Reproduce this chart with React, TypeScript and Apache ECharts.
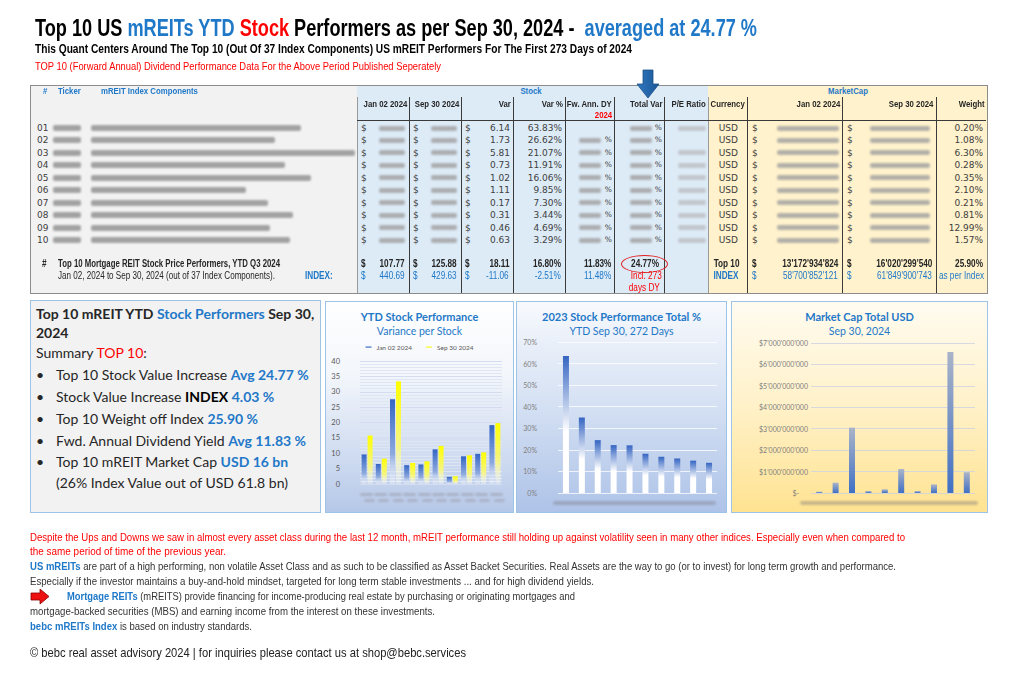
import React, { useEffect, useLayoutEffect, useRef } from 'react';
import * as echarts from 'echarts';

// ---------- data ----------
const stockNums = ['01', '02', '03', '04', '05', '06', '07', '08', '09', '10'];
const stockVar = ['6.14', '1.73', '5.81', '0.73', '1.02', '1.11', '0.17', '0.31', '0.46', '0.63'];
const stockVarPct = ['63.83%', '26.62%', '21.07%', '11.91%', '16.06%', '9.85%', '7.30%', '3.44%', '4.69%', '3.29%'];
const capWeight = ['0.20%', '1.08%', '6.30%', '0.28%', '0.35%', '2.10%', '0.21%', '0.81%', '12.99%', '1.57%'];
const priceJan02 = [9.62, 6.5, 27.57, 6.13, 6.35, 11.27, 2.33, 9.01, 9.81, 19.15];
const priceSep30 = [15.76, 8.23, 33.38, 6.86, 7.37, 12.38, 2.5, 9.32, 10.27, 19.78];
const totalPerfPct = [63.5, 35.0, 24.5, 22.2, 22.1, 18.2, 16.8, 16.0, 15.0, 14.0];
const marketCapUsd = [60e6, 480e6, 3050e6, 90e6, 170e6, 1120e6, 90e6, 400e6, 6580e6, 970e6];
const summaryTop10 = ['107.77', '125.88', '18.11', '16.80%', '11.83%', '24.77%'];
const summaryIndex = ['440.69', '429.63', '-11.06', '-2.51%', '11.48%'];
const capTop10 = ["13'172'934'824", "16'020'299'540", '25.90%'];
const capIndex = ["58'700'852'121", "61'849'900'743", 'as per Index'];
const legendNames = ['Jan 02 2024', 'Sep 30 2024'];

// ---------- layout / style ----------
const W = 1024;
const H = 674;
const BLUE = '#1f78c8';
const RED = '#ff0000';
const DARK = '#262626';
const ARIAL = "'Liberation Sans',Arial,sans-serif";
const LATO = "Lato,'Open Sans',sans-serif";
const DJ = "'DejaVu Sans',Verdana,sans-serif";
const NK = 0.82; // narrow factor
const nameBlurEnd = [301, 275, 355, 285, 311, 246, 268, 293, 270, 290];
const rowY = (i: number) => 128 + i * 12.45;
const C = {
  jan: [357, 409], sep: [409, 461], vr: [461, 513], vp: [513, 565], dy: [565, 614], tv: [614, 664],
  pe: [664, 708], cur: [708, 747], mj: [747, 842], ms: [842, 936], w: [936, 986],
};
const vlineXs = [357, 409, 461, 513, 565, 614, 664, 708, 747, 842, 936];

type TP = { x: number; y: number; a?: 'l' | 'r' | 'c'; s?: React.CSSProperties; sx?: number; children?: React.ReactNode };
const T = ({ x, y, a = 'l', s, sx = 1, children }: TP) => {
  const st: React.CSSProperties = { position: 'absolute', top: y - 10, whiteSpace: 'nowrap', ...s, lineHeight: '20px', height: 20 };
  let tf = '';
  if (a === 'r') { st.right = W - x; st.transformOrigin = 'right center'; }
  else if (a === 'c') { st.left = x; tf = 'translateX(-50%) '; st.transformOrigin = 'center center'; }
  else { st.left = x; st.transformOrigin = 'left center'; }
  if (sx !== 1) tf += `scaleX(${sx})`;
  if (tf) st.transform = tf;
  return <div style={st}>{children}</div>;
};
// narrow text (Arial-metric font compressed like a narrow cut)
const N = (p: TP) => <T {...p} sx={p.sx ?? NK} />;

// text squeezed to the width it has in the reference
const Fit = ({ x, y, w, s, children }: { x: number; y: number; w: number; s?: React.CSSProperties; children?: React.ReactNode }) => {
  const ref = useRef<HTMLDivElement>(null);
  useLayoutEffect(() => {
    const el = ref.current!;
    el.style.transform = 'none';
    const nat = el.getBoundingClientRect().width;
    if (nat > 0) el.style.transform = `scaleX(${w / nat})`;
  }, []);
  return (
    <div ref={ref} style={{ position: 'absolute', left: x, top: y - 10, whiteSpace: 'nowrap', ...s, lineHeight: '20px', height: 20, transformOrigin: 'left center' }}>
      {children}
    </div>
  );
};

const Blur = ({ x, y, w, h = 5, c = '#8f8f8f', o = 0.8 }: { x: number; y: number; w: number; h?: number; c?: string; o?: number }) => (
  <div style={{ position: 'absolute', left: x, top: y - h / 2, width: w, height: h, background: c, filter: 'blur(1.2px)', opacity: o, borderRadius: 2 }} />
);
const Box = ({ x, y, w, h, s }: { x: number; y: number; w: number; h: number; s?: React.CSSProperties }) => (
  <div style={{ position: 'absolute', left: x, top: y, width: w, height: h, boxSizing: 'border-box', ...s }} />
);

const vgrad = (stops: [number, string][]) =>
  new echarts.graphic.LinearGradient(0, 0, 0, 1, stops.map(([offset, color]) => ({ offset, color })));

function EChart({ option, style }: { option: any; style: React.CSSProperties }) {
  const ref = useRef<HTMLDivElement>(null);
  useEffect(() => {
    const chart = echarts.init(ref.current!, null, { renderer: 'svg' });
    chart.setOption(option);
    return () => chart.dispose();
  }, []);
  return <div ref={ref} style={style} />;
}

const titleStyle = { fontFamily: LATO, fontSize: 11, fontWeight: 'bold', color: BLUE };
const subStyle = { fontFamily: LATO, fontSize: 10.5, color: BLUE };
const axisLbl = { fontFamily: LATO, fontSize: 7, color: '#7f7f7f' };

const chart1Option = {
  animation: false,
  title: { text: 'YTD Stock Performance', subtext: 'Variance per Stock', left: 'center', top: 4, itemGap: 3, textStyle: titleStyle, subtextStyle: subStyle },
  legend: {
    top: 37, left: 'center', icon: 'rect', itemWidth: 6, itemHeight: 2, itemGap: 14,
    textStyle: { fontFamily: LATO, fontSize: 6.5, color: '#595959' },
    data: legendNames,
  },
  grid: { left: 34, right: 11, top: 59, bottom: 28 },
  xAxis: { type: 'category', data: stockNums, axisLine: { show: false }, axisTick: { show: false }, axisLabel: { show: false } },
  yAxis: {
    type: 'value', min: 0, max: 40, interval: 5,
    axisLabel: { ...axisLbl, fontSize: 7.5, color: '#595959', margin: 20 },
    splitLine: { lineStyle: { color: '#d3ddef' } },
    minorTick: { show: false, splitNumber: 5 },
    minorSplitLine: { show: true, lineStyle: { color: '#dfe6f3' } },
  },
  series: [
    { name: legendNames[0], type: 'bar', data: priceJan02, barWidth: 5, barGap: '20%', itemStyle: { color: vgrad([[0, '#3566c4'], [0.65, '#8eaadf'], [1, 'rgba(255,255,255,0.3)']]) } },
    { name: legendNames[1], type: 'bar', data: priceSep30, barWidth: 5, itemStyle: { color: vgrad([[0, '#ffff00'], [0.65, '#f4f48a'], [1, 'rgba(255,255,255,0.3)']]) } },
  ],
  color: ['#4472c4', '#ffff00'],
};

const chart2Option = {
  animation: false,
  title: { text: '2023 Stock Performance Total %', subtext: 'YTD Sep 30, 272 Days', left: 'center', top: 4, itemGap: 3, textStyle: titleStyle, subtextStyle: subStyle },
  grid: { left: 41, right: 9, top: 40, bottom: 19 },
  xAxis: { type: 'category', data: stockNums, axisLine: { show: false }, axisTick: { show: false }, axisLabel: { show: false } },
  yAxis: {
    type: 'value', min: 0, max: 70, interval: 10,
    axisLabel: { ...axisLbl, margin: 21, formatter: '{value}%' },
    splitLine: { lineStyle: { color: 'rgba(255,255,255,0.75)' } },
  },
  series: [
    { type: 'bar', data: totalPerfPct, barWidth: 6, itemStyle: { color: vgrad([[0, '#3565c2'], [0.55, '#ffffff'], [1, '#ffffff']]) } },
  ],
};

const capFmt = (v: number) => (v === 0 ? '$-\u00a0\u00a0\u00a0\u00a0\u00a0' : '$' + String(v).replace(/\B(?=(\d{3})+(?!\d))/g, "'"));
const chart3Option = {
  animation: false,
  title: { text: 'Market Cap Total USD', subtext: 'Sep 30, 2024', left: 'center', top: 4, itemGap: 3, textStyle: titleStyle, subtextStyle: subStyle },
  grid: { left: 79, right: 12, top: 41, bottom: 19 },
  xAxis: { type: 'category', data: stockNums, axisLine: { show: false }, axisTick: { show: false }, axisLabel: { show: false } },
  yAxis: {
    type: 'value', min: 0, max: 7e9, interval: 1e9,
    axisLabel: { ...axisLbl, margin: 3, formatter: capFmt },
    splitLine: { lineStyle: { color: 'rgba(205,210,225,0.8)' } },
  },
  series: [
    { type: 'bar', data: marketCapUsd, barWidth: 6, itemStyle: { color: vgrad([[0, '#aab4c8'], [1, '#4070c4']]) } },
  ],
};

export default function App() {
  const dataFont: React.CSSProperties = { font: `9px ${DJ}`, color: '#404040' };
  const rows = stockNums.map((n, i) => {
    const y = rowY(i);
    return (
      <React.Fragment key={n}>
        <T x={37} y={y} s={dataFont}>{n}</T>
        <Blur x={53} y={y} w={28} h={6} />
        <Blur x={91} y={y} w={nameBlurEnd[i] - 91} h={6} />
        <T x={C.jan[0] + 4} y={y} s={dataFont}>$</T>
        <Blur x={C.jan[0] + 22} y={y} w={26} c="#a0a0a0" />
        <T x={C.sep[0] + 4} y={y} s={dataFont}>$</T>
        <Blur x={C.sep[0] + 22} y={y} w={26} c="#a0a0a0" />
        <T x={C.vr[0] + 4} y={y} s={dataFont}>$</T>
        <T x={C.vr[1] - 3} y={y} a="r" s={dataFont}>{stockVar[i]}</T>
        <T x={C.vp[1] - 3} y={y} a="r" s={dataFont}>{stockVarPct[i]}</T>
        {i > 0 && <Blur x={C.dy[0] + 14} y={y} w={22} c="#a0a0a0" />}
        {i > 0 && <T x={C.dy[1] - 2} y={y} a="r" s={{ ...dataFont, fontSize: 7.5 }}>%</T>}
        <Blur x={C.tv[0] + 16} y={y} w={22} c="#a0a0a0" />
        <T x={C.tv[1] - 2} y={y} a="r" s={{ ...dataFont, fontSize: 7.5 }}>%</T>
        {i !== 1 && <Blur x={C.pe[0] + 14} y={y} w={28} c="#b0b0b0" o={0.6} />}
        <T x={C.cur[1] - 9} y={y} a="r" s={dataFont}>USD</T>
        <T x={C.mj[0] + 5} y={y} s={dataFont}>$</T>
        <Blur x={C.mj[0] + 30} y={y} w={62} c="#a0a0a0" />
        <T x={C.ms[0] + 5} y={y} s={dataFont}>$</T>
        <Blur x={C.ms[0] + 28} y={y} w={60} c="#a0a0a0" />
        <T x={C.w[1] - 3} y={y} a="r" s={dataFont}>{capWeight[i]}</T>
      </React.Fragment>
    );
  });

  const hdr: React.CSSProperties = { font: `bold 9.5px ${ARIAL}`, color: DARK };
  const hdrB: React.CSSProperties = { font: `bold 9.5px ${ARIAL}`, color: BLUE };
  const sumB: React.CSSProperties = { font: `bold 10px ${ARIAL}`, color: DARK };
  const sumI: React.CSSProperties = { font: `10px ${ARIAL}`, color: BLUE };
  const sumR: React.CSSProperties = { font: `10px ${ARIAL}`, color: RED };
  const y1 = 264;
  const y2 = 276;

  const bullet = (y: number, content: React.ReactNode) => (
    <>
      <T x={36} y={y} s={{ font: `14px ${LATO}`, color: DARK }}>•</T>
      <T x={56} y={y} s={{ font: `14px ${LATO}`, color: DARK }}>{content}</T>
    </>
  );
  const bb = (t: string, c = BLUE) => <b style={{ color: c }}>{t}</b>;
  const para: React.CSSProperties = { font: `11.5px ${ARIAL}`, color: '#333' };
  const paraR: React.CSSProperties = { font: `11.5px ${ARIAL}`, color: RED };

  return (
    <div style={{ position: 'absolute', left: 0, top: 0, width: W, height: H, background: '#fff', overflow: 'hidden' }}>
      {/* titles */}
      <Fit x={35} y={28} w={722} s={{ font: `bold 23px ${ARIAL}`, color: '#000' }}>
        Top 10 US <span style={{ color: BLUE }}>mREITs YTD</span> <span style={{ color: RED }}>Stock</span> Performers as per Sep 30, 2024 -&nbsp; <span style={{ color: BLUE }}>averaged at 24.77 %</span>
      </Fit>
      <Fit x={35} y={49} w={597} s={{ font: `bold 13px ${ARIAL}`, color: '#000' }}>
        This Quant Centers Around The Top 10 (Out Of 37 Index Components) US mREIT Performers For The First 273 Days of 2024
      </Fit>
      <Fit x={35} y={66} w={406} s={{ font: `11px ${ARIAL}`, color: RED }}>
        TOP 10 (Forward Annual) Dividend Performance Data For the Above Period Published Seperately
      </Fit>

      {/* table backgrounds */}
      <Box x={30} y={85} w={327} h={208} s={{ background: '#f2f2f2' }} />
      <Box x={357} y={85} w={351} h={208} s={{ background: '#ddebf7' }} />
      <Box x={708} y={85} w={280} h={208} s={{ background: '#fff2cc' }} />
      <Box x={30} y={85} w={958} h={209} s={{ border: '1.5px solid #8c8c8c' }} />
      {vlineXs.map((x) => (
        <Box key={x} x={x} y={97} w={1} h={196} s={{ background: x === 357 || x === 708 ? '#9a9a9a' : '#3a3a3a' }} />
      ))}
      <Box x={357} y={120} w={629} h={1} s={{ background: '#3a3a3a' }} />

      {/* header */}
      <N x={43} y={91} s={hdrB}>#</N>
      <N x={58} y={91} s={hdrB}>Ticker</N>
      <N x={101} y={91} s={hdrB}>mREIT Index Components</N>
      <N x={531} y={91} a="c" s={hdrB}>Stock</N>
      <N x={848} y={91} a="c" s={hdrB}>MarketCap</N>
      <N x={C.jan[1] - 2} y={104} a="r" s={hdr}>Jan 02 2024</N>
      <N x={C.sep[1] - 2} y={104} a="r" s={hdr}>Sep 30 2024</N>
      <N x={C.vr[1] - 2} y={104} a="r" s={hdr}>Var</N>
      <N x={C.vp[1] - 2} y={104} a="r" s={hdr}>Var %</N>
      <N x={C.dy[1] - 2} y={104} a="r" s={hdr}>Fw. Ann. DY</N>
      <N x={C.dy[1] - 2} y={115} a="r" s={{ ...hdr, color: RED }}>2024</N>
      <N x={C.tv[1] - 2} y={104} a="r" s={hdr}>Total Var</N>
      <N x={C.pe[1] - 2} y={104} a="r" s={hdr}>P/E Ratio</N>
      <N x={C.cur[1] - 2} y={104} a="r" s={hdr}>Currency</N>
      <N x={C.mj[1] - 2} y={104} a="r" s={hdr}>Jan 02 2024</N>
      <N x={C.ms[1] - 3} y={104} a="r" s={hdr}>Sep 30 2024</N>
      <N x={C.w[1] - 2} y={104} a="r" s={hdr}>Weight</N>

      {/* blue arrow */}
      <svg style={{ position: 'absolute', left: 636, top: 69 }} width={24} height={31}>
        <defs>
          <linearGradient id="ba" x1="0" y1="0" x2="1" y2="0">
            <stop offset="0" stopColor="#2f78c0" />
            <stop offset="1" stopColor="#1a5796" />
          </linearGradient>
        </defs>
        <polygon points="7,1 17,1 17,15 23,15 12,29 1,15 7,15" fill="url(#ba)" stroke="#1c4f86" strokeWidth={0.8} />
      </svg>

      {rows}

      {/* summary rows */}
      <N x={42} y={y1} s={sumB}>#</N>
      <Fit x={58} y={y1} w={222} s={sumB}>Top 10 Mortgage REIT Stock Price Performers, YTD Q3 2024</Fit>
      <Fit x={58} y={y2} w={217} s={{ font: `10px ${ARIAL}`, color: DARK }}>Jan 02, 2024 to Sep 30, 2024 (out of 37 Index Components).</Fit>
      <N x={305} y={y2} s={{ ...sumB, color: BLUE }}>INDEX:</N>
      {[C.jan, C.sep, C.vr].map((c, k) => (
        <React.Fragment key={k}>
          <N x={c[0] + 4} y={y1} s={sumB}>$</N>
          <N x={c[1] - 4} y={y1} a="r" s={sumB}>{summaryTop10[k]}</N>
          <N x={c[0] + 4} y={y2} s={sumI}>$</N>
          <N x={c[1] - 4} y={y2} a="r" s={sumI}>{summaryIndex[k]}</N>
        </React.Fragment>
      ))}
      <N x={C.vp[1] - 4} y={y1} a="r" s={sumB}>{summaryTop10[3]}</N>
      <N x={C.vp[1] - 4} y={y2} a="r" s={sumI}>{summaryIndex[3]}</N>
      <N x={C.dy[1] - 3} y={y1} a="r" s={sumB}>{summaryTop10[4]}</N>
      <N x={C.dy[1] - 3} y={y2} a="r" s={sumI}>{summaryIndex[4]}</N>
      <N x={C.tv[1] - 5} y={y1} a="r" s={sumB}>{summaryTop10[5]}</N>
      <N x={C.tv[1] - 2} y={y2} a="r" s={sumR}>Incl. 273</N>
      <N x={C.tv[1] - 4} y={288} a="r" s={sumR}>days DY</N>
      <div style={{ position: 'absolute', left: 621, top: 255, width: 47, height: 18, border: '1.5px solid #e02020', borderRadius: '50%', boxSizing: 'border-box' }} />
      <N x={C.cur[1] - 8} y={y1} a="r" s={sumB}>Top 10</N>
      <N x={C.cur[1] - 8} y={y2} a="r" s={{ ...sumB, color: BLUE }}>INDEX</N>
      <N x={C.mj[0] + 5} y={y1} s={sumB}>$</N>
      <N x={C.mj[1] - 4} y={y1} a="r" s={sumB}>{capTop10[0]}</N>
      <N x={C.ms[0] + 5} y={y1} s={sumB}>$</N>
      <N x={C.ms[1] - 4} y={y1} a="r" s={sumB}>{capTop10[1]}</N>
      <N x={C.w[1] - 3} y={y1} a="r" s={sumB}>{capTop10[2]}</N>
      <N x={C.mj[0] + 5} y={y2} s={sumI}>$</N>
      <N x={C.mj[1] - 4} y={y2} a="r" s={sumI}>{capIndex[0]}</N>
      <N x={C.ms[0] + 5} y={y2} s={sumI}>$</N>
      <N x={C.ms[1] - 4} y={y2} a="r" s={sumI}>{capIndex[1]}</N>
      <N x={C.w[1] - 2} y={y2} a="r" s={sumI}>{capIndex[2]}</N>

      {/* summary box */}
      <Box x={30} y={300} w={291} h={213} s={{ background: '#f2f2f2', border: '1px solid #9dc3e6' }} />
      <T x={36} y={314} s={{ font: `bold 14px ${LATO}`, color: DARK }}>
        Top 10 mREIT YTD <span style={{ color: BLUE }}>Stock Performers</span> Sep 30,
      </T>
      <T x={36} y={333} s={{ font: `bold 14px ${LATO}`, color: DARK }}>2024</T>
      <T x={36} y={353} s={{ font: `14px ${LATO}`, color: DARK }}>
        Summary <span style={{ color: RED }}>TOP 10</span>:
      </T>
      {bullet(375, <>Top 10 Stock Value Increase {bb('Avg 24.77 %')}</>)}
      {bullet(397, <>Stock Value Increase {bb('INDEX', '#000')} {bb('4.03 %')}</>)}
      {bullet(419, <>Top 10 Weight off Index {bb('25.90 %')}</>)}
      {bullet(441, <>Fwd. Annual Dividend Yield {bb('Avg 11.83 %')}</>)}
      {bullet(462, <>Top 10 mREIT Market Cap {bb('USD 16 bn')}</>)}
      <T x={56} y={483} s={{ font: `14px ${LATO}`, color: DARK }}>(26% Index Value out of USD 61.8 bn)</T>

      {/* charts */}
      <EChart option={chart1Option} style={{ position: 'absolute', left: 325, top: 301, width: 189, height: 212, boxSizing: 'border-box', border: '1px solid #9dc3e6', background: 'linear-gradient(#ffffff 0%, #f3f6fb 35%, #c9d7ef 80%, #b6c8e8 100%)' }} />
      <EChart option={chart2Option} style={{ position: 'absolute', left: 516, top: 301, width: 211, height: 212, boxSizing: 'border-box', border: '1px solid #9dc3e6', background: 'linear-gradient(#f7f9fd 0%, #d4e0f3 50%, #aec3e8 100%)' }} />
      <EChart option={chart3Option} style={{ position: 'absolute', left: 731, top: 301, width: 257, height: 212, boxSizing: 'border-box', border: '1px solid #9dc3e6', background: 'linear-gradient(#fffbf0 0%, #fff1c8 50%, #ffe391 100%)' }} />
      {stockNums.map((n, i) => (
        <React.Fragment key={'l' + n}>
          <Blur x={360 + i * 14.4} y={494} w={13} h={3} c="#9a9aa8" o={0.55} />
          <Blur x={364 + i * 14.4} y={500} w={11} h={3} c="#9a9aa8" o={0.5} />
        </React.Fragment>
      ))}
      <Blur x={553} y={503} w={163} h={4} c="#8a8fa0" o={0.55} />
      <Blur x={800} y={503} w={178} h={4} c="#9a9280" o={0.55} />

      {/* bottom text */}
      <Fit x={30} y={537} w={875} s={paraR}>
        Despite the Ups and Downs we saw in almost every asset class during the last 12 month, mREIT performance still holding up against volatility seen in many other indices. Especially even when compared to
      </Fit>
      <Fit x={30} y={551} w={196} s={paraR}>the same period of time of the previous year.</Fit>
      <Fit x={30} y={566} w={866} s={para}>
        <b style={{ color: BLUE }}>US mREITs</b> are part of a high performing, non volatile Asset Class and as such to be classified as Asset Backet Securities. Real Assets are the way to go (or to invest) for long term growth and performance.
      </Fit>
      <Fit x={30} y={581} w={564} s={para}>
        Especially if the investor maintains a buy-and-hold mindset, targeted for long term stable investments ... and for high dividend yields.
      </Fit>
      <svg style={{ position: 'absolute', left: 30, top: 588 }} width={20} height={17}>
        <polygon points="1,5 10,5 10,1 19,8.5 10,16 10,12 1,12" fill="#ee1111" stroke="#8a0000" strokeWidth={0.8} />
      </svg>
      <Fit x={67} y={596} w={508} s={para}>
        <b style={{ color: BLUE }}>Mortgage REITs</b> (mREITS) provide financing for income-producing real estate by purchasing or originating mortgages and
      </Fit>
      <Fit x={30} y={611} w={405} s={para}>
        mortgage-backed securities (MBS) and earning income from the interest on these investments.
      </Fit>
      <Fit x={30} y={626} w={222} s={para}>
        <b style={{ color: BLUE }}>bebc mREITs Index</b> is based on industry standards.
      </Fit>
      <Fit x={30} y={653} w={436} s={{ font: `13px ${ARIAL}`, color: '#222' }}>
        © bebc real asset advisory 2024 | for inquiries please contact us at shop@bebc.services
      </Fit>
    </div>
  );
}
